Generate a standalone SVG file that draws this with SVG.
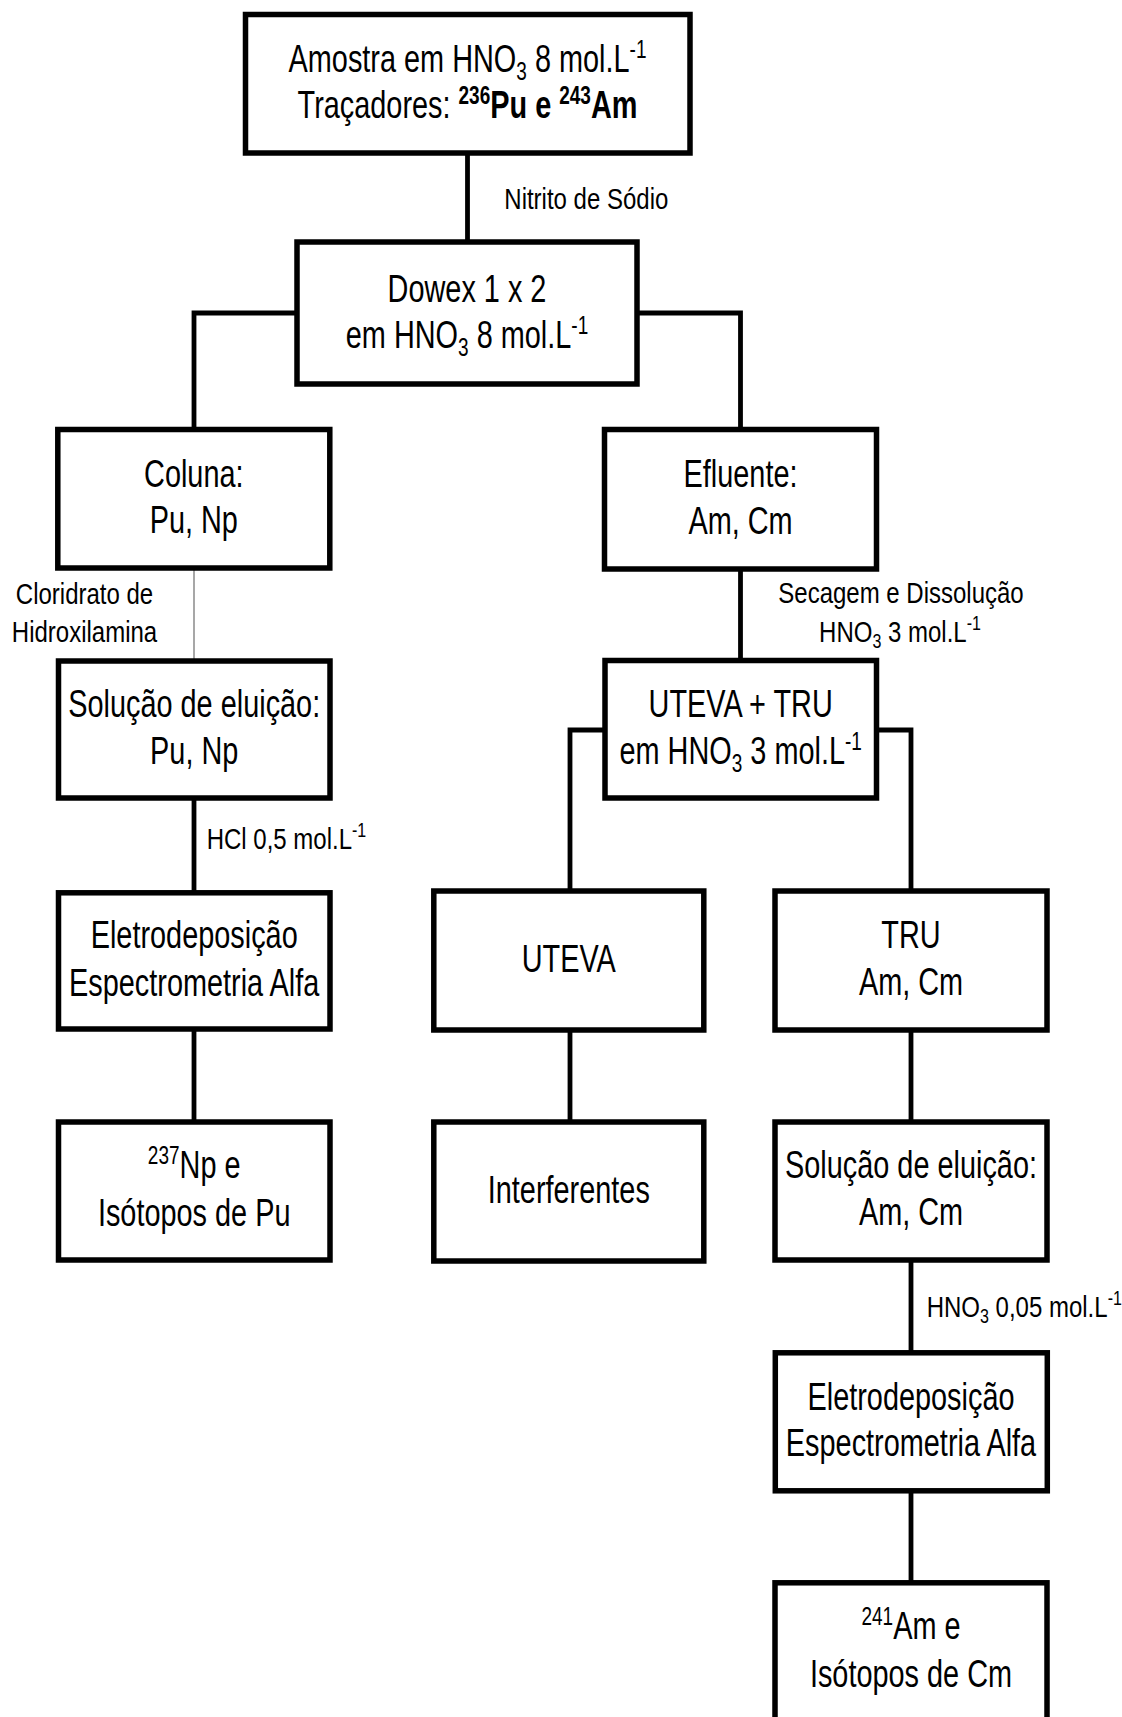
<svg xmlns="http://www.w3.org/2000/svg" width="1122" height="1717" viewBox="0 0 1122 1717">
  <style>
    .box { fill: #ffffff; stroke: #000000; stroke-width: 5.5; stroke-linejoin: miter; }
    .wire { fill: none; stroke: #000000; stroke-width: 4.8; stroke-linecap: butt; stroke-linejoin: miter; }
    .thin { fill: none; stroke: #8a8a8a; stroke-width: 1.5; }
    .n { font-family: "Liberation Sans", Arial, sans-serif; font-size: 38px; fill: #000000; text-anchor: middle; }
    .lbl { font-family: "Liberation Sans", Arial, sans-serif; font-size: 30px; fill: #000000; }
    .mid { text-anchor: middle; }
    .sm { font-size: 25px; }
    .lsm { font-size: 20px; }
    .b { font-weight: bold; }
  </style>
  <rect width="1122" height="1717" fill="#ffffff"/>

  <!-- connectors -->
  <g id="connectors">
    <line class="wire" x1="467.5" y1="153" x2="467.5" y2="242"/>
    <polyline class="wire" points="297,313 194,313 194,429.5"/>
    <polyline class="wire" points="637,313 740.5,313 740.5,429.5"/>
    <line class="thin" x1="194" y1="568" x2="194" y2="661"/>
    <line class="wire" x1="194" y1="798" x2="194" y2="892.8"/>
    <line class="wire" x1="194" y1="1029" x2="194" y2="1122"/>
    <line class="wire" x1="740.5" y1="569" x2="740.5" y2="660.5"/>
    <polyline class="wire" points="605,730 570,730 570,891"/>
    <polyline class="wire" points="876.5,730 911,730 911,891"/>
    <line class="wire" x1="570" y1="1030" x2="570" y2="1122"/>
    <line class="wire" x1="911" y1="1030" x2="911" y2="1122"/>
    <line class="wire" x1="911" y1="1260" x2="911" y2="1352.8"/>
    <line class="wire" x1="911" y1="1490.8" x2="911" y2="1582.8"/>
  </g>

  <!-- connector labels -->
  <g id="labels">
    <text class="lbl" transform="matrix(0.8 0 0 1 504.3 0)" y="209.3">Nitrito de Sódio</text>
    <text class="lbl mid" transform="matrix(0.8 0 0 1 84.5 0)" y="604">Cloridrato de</text>
    <text class="lbl mid" transform="matrix(0.8 0 0 1 84.5 0)" y="641.7">Hidroxilamina</text>
    <text class="lbl" transform="matrix(0.8 0 0 1 206.7 0)" y="849.3">HCl 0,5 mol.L<tspan class="lsm" dy="-12">-1</tspan></text>
    <text class="lbl mid" transform="matrix(0.8 0 0 1 901 0)" y="602.7">Secagem e Dissolução</text>
    <text class="lbl mid" transform="matrix(0.8 0 0 1 900 0)" y="641.7">HNO<tspan class="lsm" dy="6">3</tspan><tspan dy="-6"> 3 mol.L</tspan><tspan class="lsm" dy="-12">-1</tspan></text>
    <text class="lbl" transform="matrix(0.8 0 0 1 926.7 0)" y="1317.3">HNO<tspan class="lsm" dy="6">3</tspan><tspan dy="-6"> 0,05 mol.L</tspan><tspan class="lsm" dy="-12">-1</tspan></text>
  </g>

  <!-- sample -->
  <g id="amostra">
    <rect class="box" x="245.5" y="14.5" width="444.5" height="138.5"/>
    <text class="n" transform="matrix(0.76 0 0 1 467.5 0)" y="72">Amostra em HNO<tspan class="sm" dy="8">3</tspan><tspan dy="-8"> 8 mol.L</tspan><tspan class="sm" dy="-14">-1</tspan></text>
    <text class="n" transform="matrix(0.76 0 0 1 467.5 0)" y="118.3">Traçadores: <tspan class="sm b" dy="-14">236</tspan><tspan class="b" dy="14">Pu e </tspan><tspan class="sm b" dy="-14">243</tspan><tspan class="b" dy="14">Am</tspan></text>
  </g>

  <g id="dowex">
    <rect class="box" x="297" y="242" width="340" height="142"/>
    <text class="n" transform="matrix(0.76 0 0 1 467 0)" y="301.7">Dowex 1 x 2</text>
    <text class="n" transform="matrix(0.76 0 0 1 467 0)" y="348.3">em HNO<tspan class="sm" dy="8">3</tspan><tspan dy="-8"> 8 mol.L</tspan><tspan class="sm" dy="-14">-1</tspan></text>
  </g>

  <g id="coluna">
    <rect class="box" x="57.8" y="429.5" width="272" height="138.5"/>
    <text class="n" transform="matrix(0.76 0 0 1 193.8 0)" y="486.7">Coluna:</text>
    <text class="n" transform="matrix(0.76 0 0 1 193.8 0)" y="533.3">Pu, Np</text>
  </g>

  <g id="efluente">
    <rect class="box" x="604.5" y="429.5" width="272" height="139.5"/>
    <text class="n" transform="matrix(0.76 0 0 1 740.5 0)" y="487.3">Efluente:</text>
    <text class="n" transform="matrix(0.76 0 0 1 740.5 0)" y="534">Am, Cm</text>
  </g>

  <g id="eluicao-pu">
    <rect class="box" x="58.5" y="661" width="271.5" height="137"/>
    <text class="n" transform="matrix(0.76 0 0 1 194.2 0)" y="716.7">Solução de eluição:</text>
    <text class="n" transform="matrix(0.76 0 0 1 194.2 0)" y="764">Pu, Np</text>
  </g>

  <g id="uteva-tru">
    <rect class="box" x="605" y="660.5" width="271.5" height="137.5"/>
    <text class="n" transform="matrix(0.76 0 0 1 740.7 0)" y="716.7">UTEVA + TRU</text>
    <text class="n" transform="matrix(0.76 0 0 1 740.7 0)" y="764">em HNO<tspan class="sm" dy="8">3</tspan><tspan dy="-8"> 3 mol.L</tspan><tspan class="sm" dy="-14">-1</tspan></text>
  </g>

  <g id="eletro-pu">
    <rect class="box" x="58.5" y="892.8" width="271.5" height="136.2"/>
    <text class="n" transform="matrix(0.76 0 0 1 194.2 0)" y="948.3">Eletrodeposição</text>
    <text class="n" transform="matrix(0.76 0 0 1 194.2 0)" y="996">Espectrometria Alfa</text>
  </g>

  <g id="uteva">
    <rect class="box" x="433.8" y="891" width="270" height="139"/>
    <text class="n" transform="matrix(0.76 0 0 1 568.8 0)" y="971.7">UTEVA</text>
  </g>

  <g id="tru">
    <rect class="box" x="775" y="891" width="272" height="139"/>
    <text class="n" transform="matrix(0.76 0 0 1 911 0)" y="948.3">TRU</text>
    <text class="n" transform="matrix(0.76 0 0 1 911 0)" y="995">Am, Cm</text>
  </g>

  <g id="isotopos-pu">
    <rect class="box" x="58.5" y="1122" width="271.5" height="138"/>
    <text class="n" transform="matrix(0.76 0 0 1 194.2 0)" y="1178.3"><tspan class="sm" dy="-14">237</tspan><tspan dy="14">Np e</tspan></text>
    <text class="n" transform="matrix(0.76 0 0 1 194.2 0)" y="1226">Isótopos de Pu</text>
  </g>

  <g id="interferentes">
    <rect class="box" x="433.8" y="1122" width="270" height="139"/>
    <text class="n" transform="matrix(0.76 0 0 1 568.8 0)" y="1203.3">Interferentes</text>
  </g>

  <g id="eluicao-am">
    <rect class="box" x="775" y="1122" width="272" height="138"/>
    <text class="n" transform="matrix(0.76 0 0 1 911 0)" y="1178.3">Solução de eluição:</text>
    <text class="n" transform="matrix(0.76 0 0 1 911 0)" y="1225">Am, Cm</text>
  </g>

  <g id="eletro-am">
    <rect class="box" x="775.3" y="1352.8" width="272" height="138"/>
    <text class="n" transform="matrix(0.76 0 0 1 911 0)" y="1410">Eletrodeposição</text>
    <text class="n" transform="matrix(0.76 0 0 1 911 0)" y="1456">Espectrometria Alfa</text>
  </g>

  <g id="isotopos-cm">
    <rect class="box" x="775" y="1582.8" width="272" height="200"/>
    <text class="n" transform="matrix(0.76 0 0 1 911 0)" y="1639.3"><tspan class="sm" dy="-14">241</tspan><tspan dy="14">Am e</tspan></text>
    <text class="n" transform="matrix(0.76 0 0 1 911 0)" y="1686.7">Isótopos de Cm</text>
  </g>
</svg>
